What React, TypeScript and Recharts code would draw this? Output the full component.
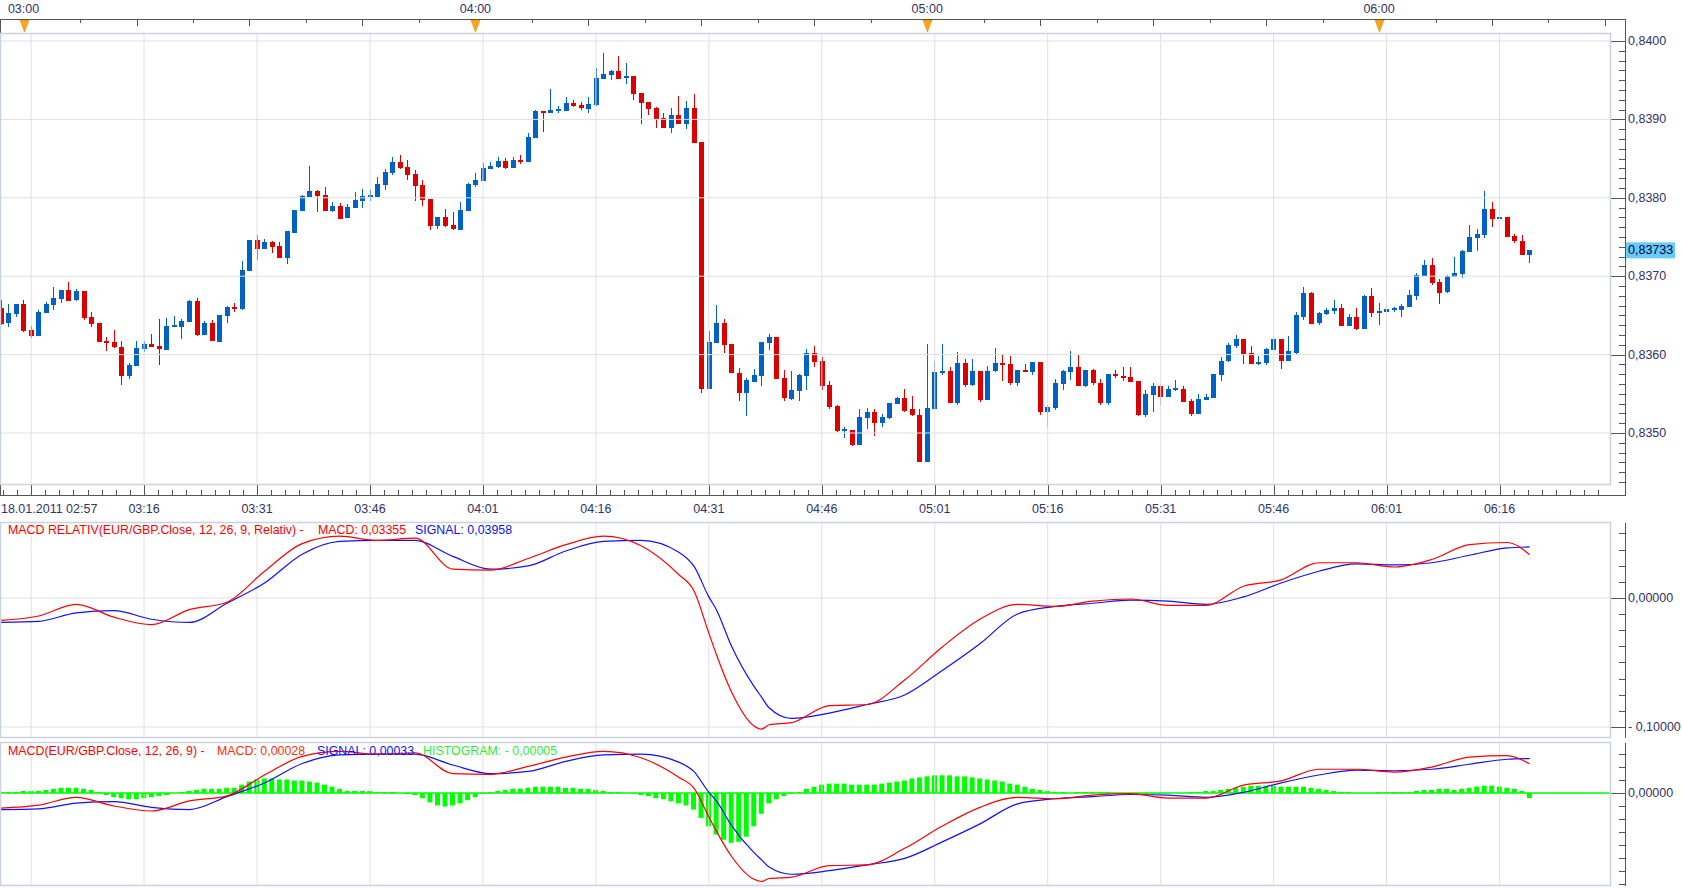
import React from 'react';
import { ComposedChart, Bar, Line, XAxis, YAxis, ReferenceLine } from 'recharts';

const FONT = '"Liberation Sans", Arial, sans-serif';
const TXT = '#333366';
const GRID = '#e0e0e0';
const FRAME = '#c9d2dd';
const AXIS = '#555555';
const UP = '#0062c4';
const DOWN = '#dd0000';

// x = minutes since 02:57 (one candle per minute)
const X_DOMAIN: [number, number] = [-0.13, 213.8];
const P_DOMAIN: [number, number] = [0.834337, 0.840102];
const REL_DOMAIN: [number, number] = [-0.1078, 0.0581];
const REL2_DOMAIN: [number, number] = [-0.1069, 0.0575];
const HIST_DOMAIN: [number, number] = [-89.5, 48.1];

// EUR/GBP 1-minute candles, in 1e-5
const openPts = [
  83660,83640,83652,83665,83632,83624,83654,83663,83672,83683,
  83669,83681,83648,83640,83617,83616,83610,83573,83586,83607,
  83614,83611,83607,83637,83635,83642,83669,83625,83640,83617,
  83649,83661,83658,83707,83746,83735,83744,83738,83723,83756,
  83783,83801,83809,83804,83783,83790,83774,83787,83796,83801,
  83802,83816,83832,83846,83839,83830,83816,83799,83765,83776,
  83765,83760,83783,83816,83821,83837,83839,83847,83838,83848,
  83846,83876,83911,83908,83912,83911,83921,83918,83914,83918,
  83952,83957,83962,83952,83955,83934,83922,83915,83902,83889,
  83906,83894,83915,83871,83556,83615,83640,83614,83577,83551,
  83565,83573,83615,83623,83570,83544,83554,83573,83602,83592,
  83561,83535,83504,83504,83485,83519,83527,83513,83519,83537,
  83545,83530,83523,83463,83531,83577,83579,83538,83589,83561,
  83579,83542,83579,83589,83588,83564,83580,83578,83591,83527,
  83532,83563,83578,83584,83560,83580,83564,83538,83575,83573,
  83572,83566,83523,83549,83560,83546,83556,83556,83541,83524,
  83542,83545,83574,83591,83611,83620,83602,83588,83589,83606,
  83620,83592,83603,83649,83679,83640,83652,83656,83660,83637,
  83648,83633,83675,83653,83654,83659,83657,83661,83675,83700,
  83714,83693,83679,83699,83703,83731,83749,83753,83786,83773,
  83776,83751,83745,83727,
];
const closePts = [
  83639,83653,83665,83630,83624,83654,83665,83672,83683,83669,
  83681,83647,83639,83616,83615,83609,83573,83587,83609,83614,
  83610,83607,83637,83638,83643,83669,83625,83640,83617,83651,
  83661,83658,83708,83746,83735,83744,83737,83723,83758,83785,
  83802,83809,83802,83783,83790,83774,83788,83797,83802,83804,
  83818,83833,83846,83838,83829,83815,83797,83765,83776,83764,
  83760,83785,83818,83823,83838,83841,83847,83838,83848,83846,
  83878,83911,83908,83912,83913,83921,83917,83914,83920,83953,
  83958,83962,83952,83955,83932,83921,83913,83901,83889,83906,
  83894,83915,83870,83556,83616,83640,83612,83577,83551,83567,
  83574,83616,83623,83570,83544,83555,83574,83602,83591,83560,
  83533,83503,83505,83485,83521,83527,83513,83521,83538,83545,
  83528,83522,83463,83532,83578,83579,83538,83589,83561,83579,
  83542,83579,83589,83587,83564,83580,83578,83591,83527,83533,
  83564,83579,83584,83560,83580,83563,83538,83575,83572,83570,
  83565,83523,83550,83560,83546,83556,83558,83540,83524,83543,
  83546,83575,83592,83612,83620,83601,83588,83591,83607,83620,
  83592,83605,83651,83679,83640,83653,83657,83660,83637,83648,
  83633,83675,83653,83656,83658,83660,83662,83676,83702,83714,
  83691,83679,83700,83704,83732,83750,83754,83786,83773,83776,
  83750,83744,83727,83733,
];
const highPts = [
  83670,83665,83665,83670,83637,83657,83667,83686,83683,83693,
  83684,83681,83654,83640,83623,83632,83617,83589,83617,83617,
  83626,83646,83647,83649,83646,83670,83672,83643,83644,83651,
  83662,83666,83720,83746,83753,83748,83745,83744,83758,83785,
  83804,83841,83810,83814,83795,83793,83792,83807,83811,83810,
  83827,83837,83852,83855,83848,83836,83823,83799,83776,83786,
  83782,83795,83819,83832,83844,83846,83852,83851,83852,83855,
  83883,83912,83911,83939,83917,83929,83925,83922,83929,83966,
  83985,83963,83981,83972,83955,83934,83922,83916,83908,83915,
  83930,83924,83932,83871,83630,83663,83646,83614,83583,83570,
  83582,83616,83626,83623,83581,83579,83575,83607,83611,83597,
  83566,83536,83508,83504,83530,83532,83530,83524,83538,83546,
  83556,83547,83530,83614,83592,83614,83584,83603,83595,83595,
  83579,83586,83609,83601,83598,83580,83588,83591,83591,83536,
  83569,83580,83605,83600,83580,83582,83569,83575,83580,83584,
  83584,83566,83555,83564,83561,83560,83568,83560,83543,83550,
  83550,83575,83597,83615,83625,83620,83611,83598,83609,83621,
  83620,83624,83654,83686,83680,83654,83660,83670,83665,83652,
  83660,83676,83685,83666,83666,83661,83665,83683,83704,83721,
  83723,83697,83702,83725,83734,83765,83760,83809,83795,83785,
  83776,83754,83753,83733,
];
const lowPts = [
  83638,83636,83649,83629,83622,83624,83654,83657,83667,83669,
  83669,83644,83635,83616,83605,83609,83561,83569,83586,83603,
  83610,83587,83607,83635,83620,83642,83623,83625,83617,83617,
  83640,83654,83658,83707,83721,83735,83730,83723,83716,83756,
  83783,83801,83782,83783,83782,83774,83774,83787,83787,83796,
  83802,83810,83829,83837,83823,83797,83790,83760,83761,83763,
  83759,83760,83783,83814,83821,83837,83838,83837,83838,83844,
  83846,83876,83884,83908,83908,83911,83916,83912,83909,83918,
  83952,83950,83952,83945,83925,83894,83906,83889,83889,83883,
  83894,83888,83869,83551,83556,83614,83603,83577,83541,83521,
  83565,83560,83606,83569,83542,83542,83540,83555,83584,83555,
  83530,83501,83494,83484,83485,83505,83496,83507,83517,83537,
  83527,83522,83463,83463,83530,83574,83538,83535,83559,83561,
  83540,83542,83579,83567,83561,83560,83578,83574,83524,83508,
  83530,83555,83568,83560,83558,83561,83536,83536,83570,83566,
  83565,83521,83521,83527,83536,83546,83554,83540,83521,83524,
  83542,83545,83567,83591,83609,83588,83588,83586,83587,83606,
  83582,83592,83601,83644,83640,83638,83651,83652,83637,83637,
  83632,83633,83648,83638,83654,83654,83648,83661,83670,83700,
  83689,83665,83679,83699,83698,83731,83732,83749,83763,83770,
  83750,83742,83727,83717,
];

// MACD histogram, in 1e-5
const histogram = [
  1, 1, 1, 2, 2, 2, 3, 4, 5, 5,
  5, 4, 3, 1, -2, -4, -5, -6, -6, -5,
  -4, -3, -2, 0, 1, 2, 3, 4, 4, 4,
  5, 5, 8, 11, 13, 14, 14, 13, 13, 12,
  12, 11, 10, 8, 6, 4, 2, 2, 2, 2,
  1, 1, 1, 0, -1, -2, -5, -9, -12, -13,
  -12, -10, -7, -4, -1, 1, 2, 3, 4, 4,
  5, 6, 6, 6, 6, 5, 5, 4, 4, 3,
  2, 1, 1, 0, -1, -2, -3, -5, -6, -8,
  -10, -12, -16, -24, -32, -40, -45, -48, -47, -42,
  -32, -20, -10, -6, -3, -1, 1, 4, 6, 8,
  9, 9, 9, 8, 8, 8, 8, 9, 10, 11,
  12, 14, 15, 16, 17, 17, 17, 16, 16, 15,
  14, 13, 12, 11, 9, 8, 6, 4, 3, 2,
  1, 1, 0, 1, 1, 1, 1, 1, 0, 0,
  0, -1, -1, -1, -1, 0, 0, 0, 1, 1,
  2, 2, 3, 4, 5, 6, 7, 7, 7, 7,
  6, 6, 6, 6, 5, 4, 3, 2, 1, 1,
  0, 0, 0, 1, 1, 1, 1, 1, 2, 3,
  3, 4, 4, 3, 4, 5, 6, 7, 7, 6,
  5, 4, 2, -5,
];

// MACD / signal (relative), sampled along the minutes
const macdMinutes = [0, 5, 10, 15, 20, 25, 30, 35, 40, 45, 50, 55, 60, 65, 70, 75, 80, 85, 90, 92, 94, 95, 97, 100, 101, 102, 105, 110, 115, 120, 125, 130, 135, 140, 145, 150, 155, 160, 165, 170, 175, 180, 185, 190, 195, 200, 203];
const macdRel = [-0.0174, -0.014, -0.005, -0.0149, -0.0207, -0.0091, -0.0033, 0.0207, 0.0421, 0.0479, 0.0446, 0.0463, 0.0223, 0.0215, 0.0306, 0.0413, 0.0479, 0.0405, 0.0182, 0.0058, -0.0273, -0.0438, -0.0727, -0.0992, -0.1017, -0.0983, -0.0967, -0.0835, -0.0826, -0.0636, -0.038, -0.0165, -0.005, -0.0066, -0.0025, -0.0008, -0.0058, -0.0058, 0.0091, 0.014, 0.0273, 0.0273, 0.024, 0.0298, 0.0413, 0.043, 0.03355];
const signalRel = [-0.019, -0.0182, -0.0116, -0.0099, -0.0165, -0.019, -0.0041, 0.0116, 0.0339, 0.0438, 0.0446, 0.0446, 0.0322, 0.0223, 0.0248, 0.0364, 0.0438, 0.0446, 0.0355, 0.0248, 0.0008, -0.0091, -0.0372, -0.0686, -0.0769, -0.0851, -0.0934, -0.0893, -0.0826, -0.0752, -0.0562, -0.0355, -0.0124, -0.0066, -0.0041, -0.0017, -0.0025, -0.005, 0.0008, 0.0116, 0.0207, 0.0264, 0.0256, 0.0273, 0.0331, 0.0388, 0.03958];

const gridMinutes = [4, 19, 34, 49, 64, 79, 94, 109, 124, 139, 154, 169, 184, 199];
const gridLabels = ['', '03:16', '03:31', '03:46', '04:01', '04:16', '04:31', '04:46', '05:01', '05:16', '05:31', '05:46', '06:01', '06:16'];
const startLabel = '18.01.2011 02:57';
const hourMinutes = [3, 63, 123, 183];
const hourLabels = ['03:00', '04:00', '05:00', '06:00'];
const priceMajors = [0.835, 0.836, 0.837, 0.838, 0.839, 0.84];

const candles = openPts.map((o, i) => ({
  t: i,
  o: o / 1e5,
  h: highPts[i] / 1e5,
  l: lowPts[i] / 1e5,
  c: closePts[i] / 1e5,
  range: [lowPts[i] / 1e5, highPts[i] / 1e5],
}));
const lastClose = closePts[closePts.length - 1] / 1e5;
const histData = histogram.map((h, i) => ({ t: i, h }));
const macdData = macdMinutes.map((t, i) => ({ t, v: macdRel[i] }));
const signalData = macdMinutes.map((t, i) => ({ t, v: signalRel[i] }));

const topTicks = Array.from({ length: 29 }, (_, k) => 3 + 7.5 * k);
const bottomTicks: number[] = [0];
[-11, ...gridMinutes].forEach((m) => {
  if (m >= 0) bottomTicks.push(m);
  for (let j = 1; j < 8; j++) {
    const v = m + (j * 15) / 8;
    if (v > 0.2 && v < 213.8) bottomTicks.push(v);
  }
});
const priceTicks = Array.from({ length: 46 }, (_, k) => (83437.5 + 12.5 * k) / 1e5);
const relTicks = Array.from({ length: 13 }, (_, k) => -0.1 + 0.0125 * k);
const histTicks = Array.from({ length: 11 }, (_, k) => -87.5 + 12.5 * k);

const fmt = (v: number, d: number) => {
  if (Math.abs(v) < 1e-9) return (0).toFixed(d).replace('.', ',');
  const s = Math.abs(v).toFixed(d).replace('.', ',');
  return v < 0 ? '- ' + s : s;
};

const textProps = { fontFamily: FONT, fontSize: 12.5, fill: TXT };

function TopTick(p: any) {
  const v = p.payload.value;
  const x = Math.round(p.x) + 0.5;
  const base = p.y - 14;
  const k = Math.round((v - 3) / 7.5);
  const hi = hourMinutes.indexOf(v);
  return (
    <g>
      <line x1={x} x2={x} y1={base} y2={base + (k % 2 === 0 ? 7 : 4)} stroke={AXIS} />
      {hi >= 0 && (
        <g>
          <polygon points={`${x - 4.5},${base + 1} ${x + 4.5},${base + 1} ${x},${base + 13}`} fill="#f9a51d" stroke="#e88f00" strokeWidth={0.6} />
          <text x={p.x} y={base - 10} textAnchor="middle" dominantBaseline="central" {...textProps}>{hourLabels[hi]}</text>
        </g>
      )}
    </g>
  );
}

function BottomTick(p: any) {
  const v = p.payload.value;
  const x = Math.round(p.x) + 0.5;
  const y = p.y;
  if (v === 0) {
    return <text x={p.x} y={y + 24} textAnchor="start" dominantBaseline="central" {...textProps}>{startLabel}</text>;
  }
  const gi = gridMinutes.indexOf(v);
  if (gi >= 0) {
    return (
      <g>
        <line x1={x} x2={x} y1={y} y2={y + 10} stroke={AXIS} />
        {gridLabels[gi] && (
          <text x={p.x} y={y + 24} textAnchor="middle" dominantBaseline="central" {...textProps}>{gridLabels[gi]}</text>
        )}
      </g>
    );
  }
  return <line x1={x} x2={x} y1={y + 5} y2={y + 10} stroke={AXIS} />;
}

function makeYTick(isLabel: (v: number) => boolean, label: (v: number) => string) {
  return (p: any) => {
    const v = p.payload.value;
    const y = Math.round(p.y) + 0.5;
    const lab = isLabel(v);
    return (
      <g>
        <line x1={p.x + (lab ? 0 : 8)} x2={p.x + 14} y1={y} y2={y} stroke={AXIS} />
        {lab && (
          <text x={p.x + 17} y={p.y} textAnchor="start" dominantBaseline="central" {...textProps}>{label(v)}</text>
        )}
      </g>
    );
  };
}

const PriceTick = makeYTick(
  (v) => Math.abs(v * 1e3 - Math.round(v * 1e3)) < 1e-6,
  (v) => v.toFixed(4).replace('.', ','),
);
const RelTick = makeYTick(
  (v) => Math.abs(v) < 1e-9 || Math.abs(v + 0.1) < 1e-9,
  (v) => fmt(v, 5),
);
const HistTick = makeYTick((v) => Math.abs(v) < 1e-9, (v) => fmt(v, 5));

function Candle(p: any) {
  const { x, y, width, height, payload } = p;
  if (!payload || x == null || y == null) return null;
  const top = Math.min(y, y + height);
  const bot = Math.max(y, y + height);
  const span = payload.h - payload.l;
  const k = span > 0 ? (bot - top) / span : 0;
  const yO = top + (payload.h - payload.o) * k;
  const yC = top + (payload.h - payload.c) * k;
  const color = payload.c >= payload.o ? UP : DOWN;
  const cx = Math.round(x + width / 2);
  const bTop = Math.round(Math.min(yO, yC));
  const bH = Math.max(2, Math.round(Math.abs(yO - yC)));
  return (
    <g shapeRendering="crispEdges">
      <rect x={cx} y={Math.round(top)} width={1} height={Math.max(1, Math.round(bot - top))} fill={color} />
      <rect x={cx - 2} y={bTop} width={5} height={bH} fill={color} />
    </g>
  );
}

function PriceTag(p: any) {
  const vb = p.viewBox;
  if (!vb) return null;
  const x = vb.x + vb.width + 15;
  const y = vb.y;
  return (
    <g>
      <rect x={x} y={y - 8} width={49} height={16} fill="#66ccff" />
      <text x={x + 2} y={y} dominantBaseline="central" fontFamily={FONT} fontSize={12.5} fill="#000033">
        {lastClose.toFixed(5).replace('.', ',')}
      </text>
    </g>
  );
}

const vGrid = (id: string, yId: string) =>
  gridMinutes.map((m) => (
    <ReferenceLine key={'v' + m} xAxisId={id} yAxisId={yId} x={m} stroke={GRID} />
  ));

const abs = (top: number, height: number): React.CSSProperties => ({ position: 'absolute', left: 0, top, width: 1682, height });

export default function App() {
  return (
    <div style={{ position: 'absolute', left: 0, top: 0, width: 1682, height: 888, background: '#fff', overflow: 'hidden', fontFamily: FONT }}>
      <div style={abs(0, 520)}>
        <ComposedChart width={1682} height={520} data={candles} margin={{ top: 0, right: 0, bottom: 0, left: 0 }}>
          <XAxis xAxisId="b" dataKey="t" type="number" domain={X_DOMAIN} allowDataOverflow ticks={bottomTicks} interval={0}
            tick={(p: any) => <BottomTick {...p} />} tickLine={false} axisLine={false} tickSize={0} tickMargin={0} height={35} />
          <XAxis xAxisId="top" orientation="top" dataKey="t" type="number" domain={X_DOMAIN} allowDataOverflow ticks={topTicks} interval={0}
            tick={(p: any) => <TopTick {...p} />} tickLine={false} axisLine={false} tickSize={0} tickMargin={0} height={33} />
          <YAxis yAxisId="p" orientation="right" type="number" domain={P_DOMAIN} allowDataOverflow ticks={priceTicks} interval={0}
            tick={PriceTick} tickLine={false} axisLine={false} tickSize={0} tickMargin={0} width={71} />
          {priceMajors.map((v) => (
            <ReferenceLine key={'h' + v} xAxisId="b" yAxisId="p" y={v} stroke={GRID} />
          ))}
          {vGrid('b', 'p')}
          <Bar xAxisId="b" yAxisId="p" dataKey="range" barSize={5} shape={(p: any) => <Candle {...p} />} isAnimationActive={false} />
          <ReferenceLine xAxisId="b" yAxisId="p" y={lastClose} stroke="none" label={(p: any) => <PriceTag {...p} />} />
        </ComposedChart>
      </div>

      <div style={abs(520, 219)}>
        <ComposedChart width={1682} height={219} margin={{ top: 3, right: 0, bottom: 2, left: 0 }}>
          <XAxis xAxisId="x" dataKey="t" type="number" domain={X_DOMAIN} allowDataOverflow hide />
          <YAxis yAxisId="r" orientation="right" type="number" domain={REL_DOMAIN} allowDataOverflow ticks={relTicks} interval={0}
            tick={RelTick} tickLine={false} axisLine={false} tickSize={0} tickMargin={0} width={71} />
          {vGrid('x', 'r')}
          <ReferenceLine xAxisId="x" yAxisId="r" y={0} stroke={GRID} />
          <ReferenceLine xAxisId="x" yAxisId="r" y={-0.1} stroke={GRID} />
          <Line xAxisId="x" yAxisId="r" data={signalData} dataKey="v" type="monotone" stroke="#1010ff" strokeWidth={1.2} dot={false} isAnimationActive={false} />
          <Line xAxisId="x" yAxisId="r" data={macdData} dataKey="v" type="monotone" stroke="#ff0000" strokeWidth={1.2} dot={false} isAnimationActive={false} />
        </ComposedChart>
      </div>

      <div style={abs(740, 148)}>
        <ComposedChart width={1682} height={148} data={histData} margin={{ top: 3, right: 0, bottom: 2, left: 0 }}>
          <XAxis xAxisId="x" dataKey="t" type="number" domain={X_DOMAIN} allowDataOverflow hide />
          <YAxis yAxisId="h" orientation="right" type="number" domain={HIST_DOMAIN} allowDataOverflow ticks={histTicks} interval={0}
            tick={HistTick} tickLine={false} axisLine={false} tickSize={0} tickMargin={0} width={71} />
          <YAxis yAxisId="r" orientation="right" type="number" domain={REL2_DOMAIN} allowDataOverflow hide />
          {vGrid('x', 'h')}
          <Bar xAxisId="x" yAxisId="h" dataKey="h" barSize={5} fill="#00ff00" isAnimationActive={false} />
          <ReferenceLine xAxisId="x" yAxisId="h" y={0} stroke="#00ff00" strokeWidth={1.5} />
          <Line xAxisId="x" yAxisId="r" data={signalData} dataKey="v" type="monotone" stroke="#1010ff" strokeWidth={1.2} dot={false} isAnimationActive={false} />
          <Line xAxisId="x" yAxisId="r" data={macdData} dataKey="v" type="monotone" stroke="#ff0000" strokeWidth={1.2} dot={false} isAnimationActive={false} />
        </ComposedChart>
      </div>

      <svg width={1682} height={888} style={{ position: 'absolute', left: 0, top: 0, pointerEvents: 'none' }}>
        <line x1={0} x2={1626} y1={19.5} y2={19.5} stroke={AXIS} />
        <line x1={0.5} x2={0.5} y1={19} y2={33} stroke={AXIS} />
        <line x1={1625.5} x2={1625.5} y1={19} y2={496} stroke={AXIS} />
        <line x1={0} x2={1626} y1={495.5} y2={495.5} stroke={AXIS} />
        <line x1={0.5} x2={0.5} y1={485} y2={496} stroke={AXIS} />
        <rect x={0.5} y={33.5} width={1610} height={451} fill="none" stroke={FRAME} strokeWidth={1.5} />
        <rect x={0.5} y={522.5} width={1610} height={215} fill="none" stroke={FRAME} strokeWidth={1.5} />
        <line x1={1625.5} x2={1625.5} y1={523} y2={738} stroke={AXIS} />
        <rect x={0.5} y={742.5} width={1610} height={143} fill="none" stroke={FRAME} strokeWidth={1.5} />
        <line x1={1625.5} x2={1625.5} y1={743} y2={886} stroke={AXIS} />
      </svg>

      <div style={{ position: 'absolute', top: 523, left: 0, height: 15, fontSize: 12.4, lineHeight: '15px', whiteSpace: 'nowrap' }}>
        <span style={{ position: 'absolute', left: 8, color: '#ff0000' }}>MACD RELATIV(EUR/GBP.Close, 12, 26, 9, Relativ) -</span>
        <span style={{ position: 'absolute', left: 318, color: '#ff0000' }}>MACD: 0,03355</span>
        <span style={{ position: 'absolute', left: 415, color: '#1010ff' }}>SIGNAL: 0,03958</span>
      </div>
      <div style={{ position: 'absolute', top: 744, left: 0, height: 15, fontSize: 12.4, lineHeight: '15px', whiteSpace: 'nowrap' }}>
        <span style={{ position: 'absolute', left: 8, color: '#ff0000' }}>MACD(EUR/GBP.Close, 12, 26, 9) -</span>
        <span style={{ position: 'absolute', left: 217, color: '#ff3000' }}>MACD: 0,00028</span>
        <span style={{ position: 'absolute', left: 317, color: '#1010ff' }}>SIGNAL: 0,00033</span>
        <span style={{ position: 'absolute', left: 423, color: '#33ee33' }}>HISTOGRAM: - 0,00005</span>
      </div>
    </div>
  );
}
